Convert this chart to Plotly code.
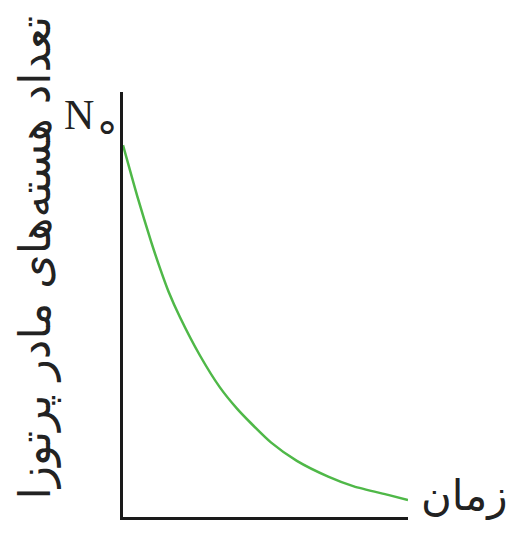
import plotly.graph_objects as go

# Decay of parent nuclei over time (arbitrary units)
time_values = [0, 0.5, 1.0, 1.3, 1.6, 2.0, 2.7, 3.4, 4.0, 4.5, 5.2, 6.1, 7.2, 8.1, 9.3, 10]
nuclei_values = [87.5, 75.5, 64.5, 58.5, 53, 47, 38, 30.5, 25.5, 22, 17.5, 13.2, 9.5, 7.2, 5.2, 4.0]

y_title = "تعداد هسته‌های مادر پرتوزا"
x_title = "زمان"
n0_label = "N<span style='font-size:60px'><sub>∘</sub></span>"

fig = go.Figure()
fig.add_trace(go.Scatter(
    x=time_values, y=nuclei_values,
    mode="lines",
    line=dict(color="#4fb848", width=2.5, shape="spline", smoothing=0.6),
    hoverinfo="skip",
))

fig.update_layout(
    width=510, height=537,
    margin=dict(l=123, r=102, t=92, b=20),
    paper_bgcolor="white", plot_bgcolor="white",
    showlegend=False,
    xaxis=dict(range=[0, 10], showline=True, linecolor="#1a1a1a", linewidth=3,
               showgrid=False, zeroline=False, showticklabels=False, ticks=""),
    yaxis=dict(range=[0, 100], showline=True, linecolor="#1a1a1a", linewidth=3,
               showgrid=False, zeroline=False, showticklabels=False, ticks=""),
)

fig.add_annotation(
    text=y_title, textangle=-90, showarrow=False,
    xref="paper", yref="paper", x=-0.31, y=0.61,
    xanchor="center", yanchor="middle",
    font=dict(family="DejaVu Sans", size=44, color="#222"),
)
fig.add_annotation(
    text=x_title, showarrow=False,
    xref="paper", yref="y", x=1.04, y=5,
    xanchor="left", yanchor="middle",
    font=dict(family="DejaVu Sans", size=42, color="#222"),
)
fig.add_annotation(
    text=n0_label, showarrow=False,
    xref="paper", yref="y", x=-0.005, y=93,
    xanchor="right", yanchor="middle",
    font=dict(family="Liberation Serif", size=42, color="#222"),
)

fig.write_html("out.html")
